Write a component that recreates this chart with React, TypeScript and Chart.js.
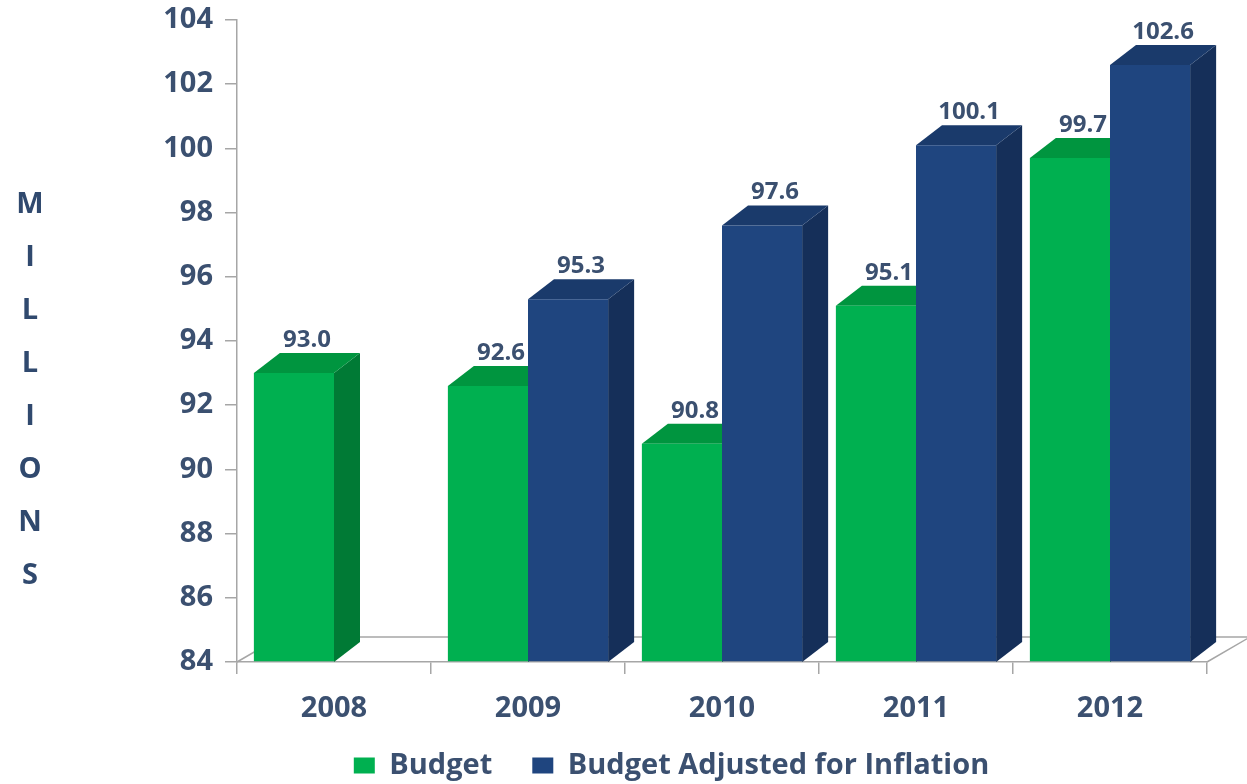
import React, { useEffect, useRef } from 'react';
import { Chart, registerables } from 'chart.js';

Chart.register(...registerables);

// ---- data ----
const categories = ['2008', '2009', '2010', '2011', '2012'];
const budget = [93.0, 92.6, 90.8, 95.1, 99.7];
const adjusted = [null, 95.3, 97.6, 100.1, 102.6];
const seriesLabels = ['Budget', 'Budget Adjusted for Inflation'];
const yMin = 84;
const yMax = 104;
const yStep = 2;
const axisTitle = 'MILLIONS';

// ---- styles ----
const FONT = "'Open Sans', 'DejaVu Sans', sans-serif";
const TEXT = '#3B5070';
const TITLE = '#30496E';
const AXIS = '#A6A6A6';
const palette = [
  { front: '#00B050', side: '#007A35', top: '#00953F' },
  { front: '#1F457F', side: '#152F59', top: '#1A3A6B' },
];
const DEPTH_X = 26;
const DEPTH_Y = -20;
const FLOOR_X = 43;
const FLOOR_Y = -25;
const LEGEND_SHIFT_X = 68;
const LEGEND_SHIFT_Y = 6;
const X_LABEL_BAND = 75;

const bar3d = {
  id: 'bar3d',
  afterLayout(chart: any) {
    const lg = chart.legend;
    if (lg) {
      lg.left += LEGEND_SHIFT_X;
      lg.right += LEGEND_SHIFT_X;
      lg.top += LEGEND_SHIFT_Y;
      lg.bottom += LEGEND_SHIFT_Y;
    }
    const xs = chart.scales.x;
    xs.bottom = xs.top + X_LABEL_BAND;
    xs.height = X_LABEL_BAND;
  },
  beforeDatasetsDraw(chart: any) {
    const { ctx, chartArea } = chart;
    const yScale = chart.scales.y;
    const base = yScale.getPixelForValue(yMin);
    ctx.save();
    // floor
    ctx.strokeStyle = AXIS;
    ctx.lineWidth = 1.5;
    ctx.beginPath();
    ctx.moveTo(chartArea.left, base);
    ctx.lineTo(chartArea.left + FLOOR_X, base + FLOOR_Y);
    ctx.lineTo(chartArea.right + FLOOR_X, base + FLOOR_Y);
    ctx.lineTo(chartArea.right, base);
    ctx.stroke();

    for (let i = 0; i < categories.length; i++) {
      chart.data.datasets.forEach((ds: any, d: number) => {
        const v = ds.data[i];
        const el = chart.getDatasetMeta(d).data[i];
        if (v == null || !el) return;
        const { x, y, width } = el.getProps(['x', 'y', 'width'], true);
        const x0 = x - width / 2;
        const x1 = x + width / 2;
        const c = palette[d];
        ctx.fillStyle = c.side;
        ctx.beginPath();
        ctx.moveTo(x1, y);
        ctx.lineTo(x1 + DEPTH_X, y + DEPTH_Y);
        ctx.lineTo(x1 + DEPTH_X, base + DEPTH_Y);
        ctx.lineTo(x1, base);
        ctx.closePath();
        ctx.fill();
        ctx.fillStyle = c.top;
        ctx.beginPath();
        ctx.moveTo(x0, y);
        ctx.lineTo(x0 + DEPTH_X, y + DEPTH_Y);
        ctx.lineTo(x1 + DEPTH_X, y + DEPTH_Y);
        ctx.lineTo(x1, y);
        ctx.closePath();
        ctx.fill();
        ctx.fillStyle = TEXT;
        ctx.font = `bold 24px ${FONT}`;
        ctx.textAlign = 'center';
        ctx.textBaseline = 'alphabetic';
        ctx.fillText(Number(v).toFixed(1), x + DEPTH_X / 2, y + DEPTH_Y - 6);
      });
    }

    // vertical stacked axis title
    ctx.fillStyle = TITLE;
    ctx.font = `bold 29px ${FONT}`;
    ctx.textAlign = 'center';
    ctx.textBaseline = 'middle';
    const letters = axisTitle.split('');
    const step = 53;
    const startY = 205;
    letters.forEach((ch, k) => ctx.fillText(ch, 30, startY + k * step));
    ctx.restore();
  },
};

export default function App() {
  const ref = useRef<HTMLCanvasElement>(null);
  useEffect(() => {
    const chart = new Chart(ref.current as HTMLCanvasElement, {
      type: 'bar',
      data: {
        labels: categories,
        datasets: [
          {
            label: seriesLabels[0],
            data: budget,
            backgroundColor: palette[0].front,
            base: yMin,
            categoryPercentage: 0.826,
            barPercentage: 1,
          } as any,
          {
            label: seriesLabels[1],
            data: adjusted,
            backgroundColor: palette[1].front,
            base: yMin,
            categoryPercentage: 0.826,
            barPercentage: 1,
          } as any,
        ],
      },
      options: {
        responsive: false,
        animation: false,
        events: [],
        layout: { padding: { top: 20, right: 40, left: 0, bottom: 0 } },
        plugins: {
          tooltip: { enabled: false },
          legend: {
            position: 'bottom',
            labels: {
              color: TEXT,
              font: { family: FONT, size: 29, weight: 'bold' },
              boxWidth: 21,
              boxHeight: 16,
              padding: 40,
            },
          },
        },
        scales: {
          x: {
            offset: true,
            grid: { offset: true, drawOnChartArea: false, drawTicks: true, tickLength: 12, color: AXIS, lineWidth: 1.5 },
            border: { display: true, color: AXIS, width: 1.5 },
            ticks: { color: TEXT, font: { family: FONT, size: 29, weight: 'bold' }, padding: 17 },
            afterFit: (s: any) => { s.height = 43; },
          },
          y: {
            min: yMin,
            max: yMax,
            ticks: { stepSize: yStep, color: TEXT, font: { family: FONT, size: 29, weight: 'bold' }, padding: 12 },
            grid: { drawOnChartArea: false, drawTicks: true, tickLength: 12, color: AXIS, lineWidth: 1.5 },
            border: { display: true, color: AXIS, width: 1.5 },
            afterFit: (s: any) => { s.width = 237; s.paddingTop = 0; s.paddingBottom = 0; },
          },
        },
      } as any,
      plugins: [bar3d],
    });
    return () => chart.destroy();
  }, []);
  return (
    <div style={{ position: 'absolute', left: 0, top: 0, width: 1247, height: 784, background: '#ffffff' }}>
      <canvas ref={ref} width={1247} height={784} style={{ display: 'block' }} />
    </div>
  );
}
